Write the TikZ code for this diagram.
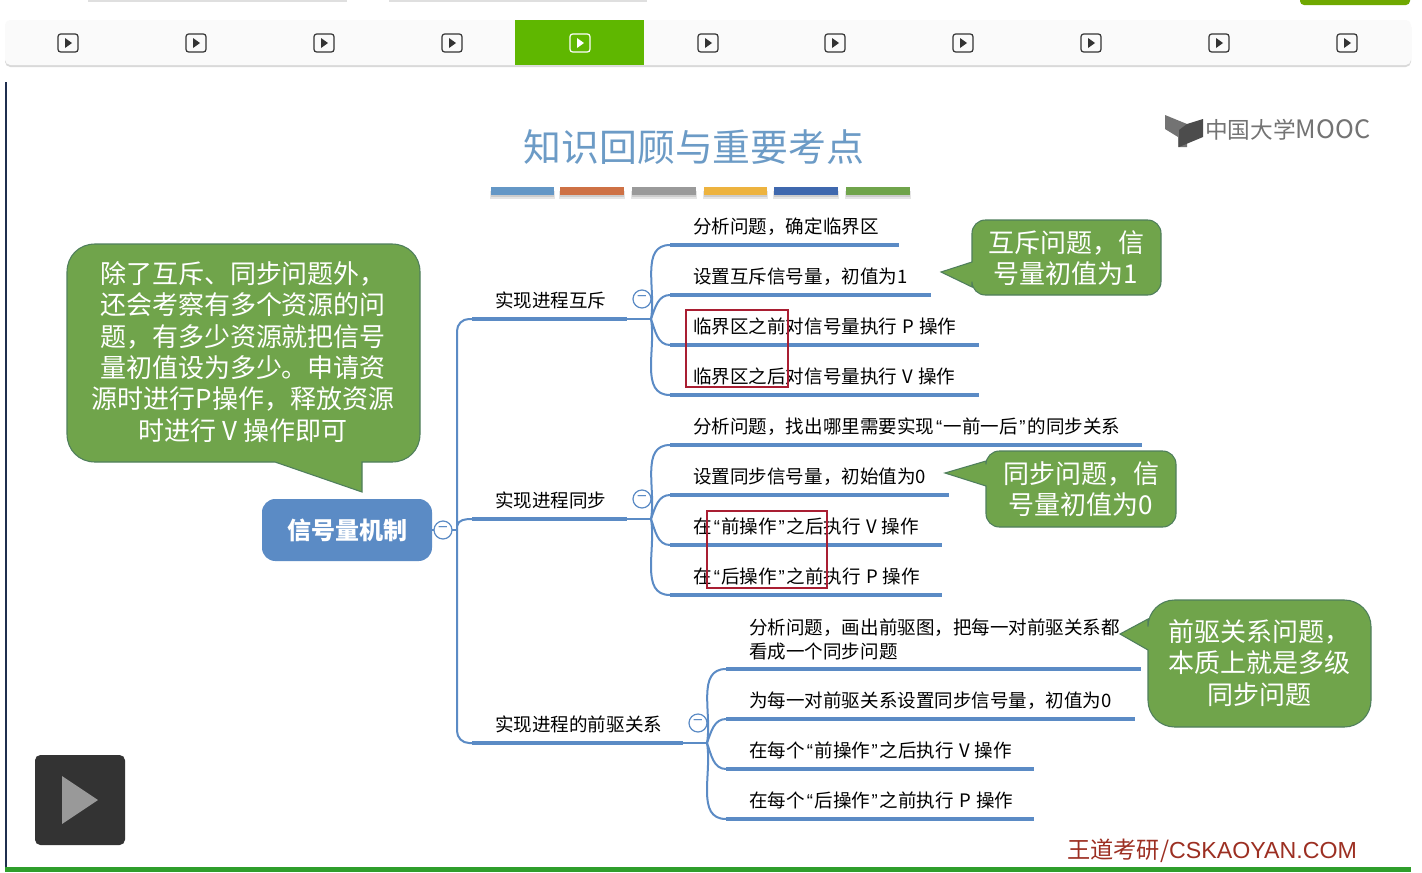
\documentclass[tikz,border=0pt]{standalone}
\usepackage{fontspec}
\usepackage{xcolor}
\setmainfont{Noto Sans CJK SC}
\newfontfamily\latinfont{Liberation Sans}
\newcommand{\openq}{\hspace{1.5pt}{\latinfont “}\hspace{1.1pt}}
\newcommand{\closeq}{\hspace{1.1pt}{\latinfont ”}\hspace{1.5pt}}
\newcommand{\opgap}{\hspace{3.9pt}}
\definecolor{limbblue}{HTML}{5B8BC5}
\definecolor{notegreen}{HTML}{70A44B}
\definecolor{noteedge}{HTML}{4F7F5C}
\definecolor{framered}{HTML}{A91E32}
\definecolor{titleblue}{HTML}{6C9BC6}
\definecolor{activegreen}{HTML}{5FB700}
\definecolor{tabgreen}{HTML}{6FA800}
\definecolor{edgenavy}{HTML}{1F2F4F}
\definecolor{basegreen}{HTML}{2F9E2B}
\definecolor{padgray}{HTML}{333333}
\definecolor{padtri}{HTML}{999999}
\definecolor{markred}{HTML}{9C2F22}
\tikzset{
	limb/.style={draw=limbblue, line width=1.5pt},
	rule/.style={draw=limbblue, line width=3.5pt},
	leaf/.style={anchor=base west, inner sep=0pt, font=\fontsize{13.9}{18}\selectfont, align=left},
	notebox/.style={draw=noteedge, fill=notegreen, line width=0.8pt},
	notetext/.style={text=white, inner sep=0pt, align=center, font=\fontsize{19.5}{23.5}\selectfont},
	fold/.style={circle, draw=limbblue, fill=white, line width=0.9pt, minimum size=13.5pt, inner sep=0pt},
	foldmark/.style={text=limbblue, inner sep=0pt, font=\fontsize{13}{13}\selectfont},
	redframe/.style={draw=framered, line width=1.1pt},
}
\begin{document}
\begin{tikzpicture}[x=0.75pt, y=-0.75pt]
	\useasboundingbox[fill=white] (0,0) rectangle (1422,872);

	% player chrome
	\fill[gray!25] (88,0) rectangle (347,2);
	\fill[gray!25] (389,0) rectangle (647,2);
	\fill[tabgreen, rounded corners=3pt] (1300,-6) rectangle (1410,5);
	\fill[black!15, rounded corners=4pt] (5,22) rectangle (1411,67);
	\fill[black!2, rounded corners=4pt] (5,20) rectangle (1411,65);
	\fill[activegreen] (515,20) rectangle (644,65);
	\foreach \x in {68, 196, 324, 452, 708, 835, 963, 1091, 1219, 1347} {
			\draw[black!80, line width=0.9pt, rounded corners=2pt] (\x-10,34) rectangle (\x+10,52);
			\fill[black!80] (\x-3,38) -- (\x+4,43) -- (\x-3,48) -- cycle;
		}
	\draw[white, line width=0.9pt, rounded corners=2pt] (570,34) rectangle (590,52);
	\fill[white] (577,38) -- (584,43) -- (577,48) -- cycle;
	\fill[edgenavy] (5,82) rectangle (7,872);
	\fill[basegreen] (5,867) rectangle (1411,872);

	% title
	\node[inner sep=0pt, text=titleblue, font=\fontsize{28.4}{30}\selectfont] (title) at (694,147) {知识回顾与重要考点};
	\foreach \a/\b/\c in {491/554/6497C6, 560/624/CE7145, 632/696/9A9A9A, 704/767/EDB33F, 774/838/3F68AE, 846/910/70A44B} {
			\definecolor{barcolor}{HTML}{\c}
			\fill[black!10] (\a-1,191) rectangle (\b+1,199);
			\fill[black!20] (\a,190) rectangle (\b,197);
			\fill[barcolor] (\a,187) rectangle (\b,195);
		}

	% logo
	\fill[black!55] (1165,115) -- (1187,124) -- (1187,147) -- (1178,147) -- (1178,137) -- (1165,129) -- cycle;
	\fill[black!70] (1179,147) -- (1179,130) -- (1187,124) -- (1203,119) -- (1203,137) -- cycle;
	\node[anchor=west, inner sep=0pt, text=black!55, font=\fontsize{17}{20}\selectfont] (logo) at (1205,130) {中国大学{\fontsize{19}{20}\selectfont MOOC}};

	% root
	\node[fill=limbblue, rounded corners=10pt, minimum width=127.5pt, minimum height=46.5pt, inner sep=0pt, text=white, font=\fontsize{18}{20}\selectfont\bfseries] (root) at (347,530) {\raisebox{-2.5pt}{信号量机制}};
	\coordinate (trunk) at (457,530);
	\coordinate (armA) at (472,319);
	\coordinate (armB) at (472,519);
	\coordinate (armC) at (472,743);
	\draw[limb] (root.east) -- (trunk);
	\draw[limb, rounded corners=9pt] (armA) -- (457,319) -- (457,743) -- (armC);
	\draw[limb] (457,526) to[out=80, in=180] (armB);
	\node[fold] (foldroot) at (443,530) {};
	\node[foldmark] at (foldroot) {−};

	% branches
	\foreach \n/\t/\lx/\ly/\hx in {A/实现进程互斥/495/300/651, B/实现进程同步/495/500/651, C/实现进程的前驱关系/495/724/707} {
			\node[leaf] (branch\n) at (\lx,\ly+7) {\t};
			\coordinate (hub\n) at (\hx,\ly+19);
			\draw[rule] (arm\n) -- (\hx-24,\ly+19);
			\draw[limb] (\hx-24,\ly+19) -- (hub\n);
			\node[fold] (fold\n) at (\hx-9,\ly-1) {};
			\node[foldmark] at (fold\n) {−};
		}

	% leaves
	\foreach \m/\y/\e/\t in {
			A1/226/899/{分析问题，确定临界区},
			A2/276/931/{设置互斥信号量，初值为1},
			A3/326/979/{临界区之前对信号量执行\opgap P\opgap 操作},
			A4/376/979/{临界区之后对信号量执行\opgap V\opgap 操作},
			B1/426/1142/{分析问题，找出哪里需要实现\openq 一前一后\closeq 的同步关系},
			B2/476/949/{设置同步信号量，初始值为0},
			B3/526/942/{在\openq 前操作\closeq 之后执行\opgap V\opgap 操作},
			B4/576/942/{在\openq 后操作\closeq 之前执行\opgap P\opgap 操作}} {
			\node[leaf] (leaf\m) at (693,\y+7) {\t};
			\coordinate (start\m) at (670,\y+19);
			\coordinate (end\m) at (\e,\y+19);
			\draw[rule] (start\m) -- (end\m);
		}
	\foreach \m/\y/\e/\t in {
			C2/700/1135/{为每一对前驱关系设置同步信号量，初值为0},
			C3/750/1034/{在每个\openq 前操作\closeq 之后执行\opgap V\opgap 操作},
			C4/800/1034/{在每个\openq 后操作\closeq 之前执行\opgap P\opgap 操作}} {
			\node[leaf] (leaf\m) at (749,\y+7) {\t};
			\coordinate (start\m) at (726,\y+19);
			\coordinate (end\m) at (\e,\y+19);
			\draw[rule] (start\m) -- (end\m);
		}
	\node[leaf, anchor=west] (leafC1) at (749,639) {分析问题，画出前驱图，把每一对前驱关系都\\看成一个同步问题};
	\coordinate (startC1) at (726,669);
	\coordinate (endC1) at (1141,669);
	\draw[rule] (startC1) -- (endC1);
	\foreach \h/\m/\o in {A/A1/80, A/A2/70, A/A3/-70, A/A4/-80, B/B1/80, B/B2/70, B/B3/-70, B/B4/-80, C/C1/80, C/C2/70, C/C3/-70, C/C4/-80} {
			\draw[limb] (hub\h) to[out=\o, in=180] (start\m);
		}

	% red frames
	\draw[redframe] (686,310) rectangle (788,387);
	\draw[redframe] (707,511) rectangle (827,588);

	% notes
	\draw[notebox] (95,244) -- (392,244) .. controls (408,244) and (420,256) .. (420,272) -- (420,434) .. controls (420,450) and (408,462) .. (392,462) -- (362,462) -- (362,492) -- (275,462) -- (95,462) .. controls (79,462) and (67,450) .. (67,434) -- (67,272) .. controls (67,256) and (79,244) .. (95,244) -- cycle;
	\node[notetext] (notemain) at (243,352) {除了互斥、同步问题外，\\还会考察有多个资源的问\\题，有多少资源就把信号\\量初值设为多少。申请资\\源时进行P操作，释放资源\\时进行 V 操作即可};

	\draw[notebox, rounded corners=10pt] (972,220) -- (1161,220) -- (1161,295) -- (972,295) [sharp corners] -- (972,287) -- (941,272) -- (972,262) [rounded corners=10pt] -- cycle;
	\node[notetext] (notemutex) at (1066,258) {互斥问题，信\\号量初值为1};

	\draw[notebox, rounded corners=10pt] (986,451) -- (1176,451) -- (1176,527) -- (986,527) [sharp corners] -- (986,486) -- (945,473) -- (986,461) [rounded corners=10pt] -- cycle;
	\node[notetext] (notesync) at (1081,489) {同步问题，信\\号量初值为0};

	\draw[notebox, rounded corners=20pt] (1148,600) -- (1371,600) -- (1371,727) -- (1148,727) [sharp corners] -- (1148,650) -- (1120,634) -- (1148,619) [rounded corners=20pt] -- cycle;
	\node[notetext] (noteorder) at (1259,663) {前驱关系问题，\\本质上就是多级\\同步问题};

	% play button and watermark
	\fill[padgray, rounded corners=4pt] (35,755) rectangle (125,845);
	\fill[padtri] (62,776) -- (98,800) -- (62,824) -- cycle;
	\node[anchor=west, inner sep=0pt, text=markred, font=\fontsize{17.4}{20}\selectfont] (mark) at (1067,851) {王道考研/{\latinfont CSKAOYAN.COM}};
\end{tikzpicture}
\end{document}
